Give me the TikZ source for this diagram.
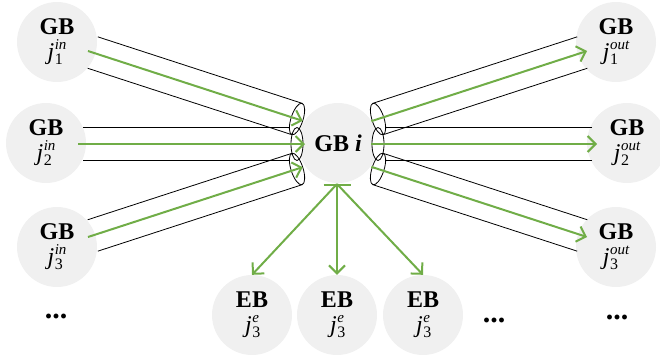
\documentclass[tikz,border=0pt]{standalone}
\usepackage{fontspec}
\setmainfont{Liberation Serif}
\usetikzlibrary{arrows.meta,calc}
\definecolor{nodegray}{HTML}{F0F0F0}
\definecolor{arrowgreen}{HTML}{70AD47}
\newcommand\jlab[2]{\textit{j}\kern0.5pt\rlap{\raisebox{10pt}{\fontsize{15}{15}\selectfont\itshape #1}}\raisebox{-5pt}{\fontsize{16}{16}\selectfont #2}\hphantom{\fontsize{15}{15}\selectfont\itshape #1}\kern-8pt}
\begin{document}
\begin{tikzpicture}[x=1pt,y=-1pt,
  bub/.style={circle,fill=nodegray,minimum size=80pt,inner sep=0pt,align=center,font=\fontsize{24}{25}\selectfont},
  >={Straight Barb[length=8pt,width=16pt]},
  garrow/.style={draw=arrowgreen,line width=2pt,->},
  tubeline/.style={draw=black,line width=0.8pt},
  dotsnode/.style={font=\fontsize{30}{30}\selectfont\bfseries,inner sep=0pt}]
\useasboundingbox (0,0) rectangle (660,360);
\clip (0,0) rectangle (660,360);

% nodes
\node[bub] (in1) at (57,42) {\textbf{GB}\\\jlab{in}{1}};
\node[bub] (in2) at (46,143) {\textbf{GB}\\\jlab{in}{2}};
\node[bub] (in3) at (57,247) {\textbf{GB}\\\jlab{in}{3}};
\node[bub] (gbi) at (338,143) {\textbf{GB \textit{i}}};
\node[bub] (out1) at (616,42) {\textbf{GB}\\\jlab{out}{1}};
\node[bub] (out2) at (627,143) {\textbf{GB}\\\jlab{out}{2}};
\node[bub] (out3) at (616,247) {\textbf{GB}\\\jlab{out}{3}};
\node[bub] (eb1) at (252,315) {\textbf{EB}\\\jlab{e}{3}};
\node[bub] (eb2) at (337,315) {\textbf{EB}\\\jlab{e}{3}};
\node[bub] (eb3) at (423,315) {\textbf{EB}\\\jlab{e}{3}};
\node[dotsnode] (dotsl) at (56,316) {...};
\node[dotsnode] (dotsm) at (494,320) {...};
\node[dotsnode] (dotsr) at (617,317) {...};

% tube coordinates
\coordinate (a1) at (88,51);  \coordinate (c1) at (297,119);
\coordinate (a2) at (78,144); \coordinate (c2) at (297,144);
\coordinate (a3) at (88,237); \coordinate (c3) at (297,169);
\coordinate (b1) at (587,51);  \coordinate (d1) at (378,119);
\coordinate (b2) at (597,144); \coordinate (d2) at (378,144);
\coordinate (b3) at (587,237); \coordinate (d3) at (378,169);

% tube walls
\foreach \a/\c in {a1/c1,a2/c2,a3/c3,b1/d1,b2/d2,b3/d3}{
  \coordinate (t) at ($(\a)!5pt!(\c)$);
  \draw[tubeline] ($(t)!16.5pt!90:(\c)$) -- ($(\c)!16.5pt!-90:(t)$);
  \draw[tubeline] ($(t)!16.5pt!-90:(\c)$) -- ($(\c)!16.5pt!90:(t)$);
}
% tube ends
\foreach \c/\ang in {c1/-18,c2/0,c3/18,d1/18,d2/0,d3/-18}{
  \fill[white,rotate around={\ang:(\c)}] (\c) ellipse (6pt and 16.5pt);
}
\foreach \c/\ang in {c1/-18,c2/0,c3/18,d1/18,d2/0,d3/-18}{
  \draw[tubeline,rotate around={\ang:(\c)}] (\c) ellipse (6pt and 16.5pt);
}

% green flows
\coordinate (e1) at ($(c1)!-6pt!(a1)$);
\coordinate (e2) at ($(c2)!-8pt!(a2)$);
\coordinate (e3) at ($(c3)!-6pt!(a3)$);
\coordinate (f1) at ($(d1)!-7pt!(b1)$);
\coordinate (f2) at ($(d2)!-7pt!(b2)$);
\coordinate (f3) at ($(d3)!-7pt!(b3)$);
\draw[garrow] (a1) -- (e1);
\draw[garrow] (a2) -- (e2);
\draw[garrow] (a3) -- (e3);
\draw[garrow] (f1) -- (b1);
\draw[garrow] (f2) -- (b2);
\draw[garrow] (f3) -- (b3);

% to EB nodes
\coordinate (gbib) at (337,184);
\draw[garrow] (gbib) -- (eb1.north);
\draw[garrow,{Bar[width=27pt]}->] (gbib) -- (eb2.north);
\draw[garrow] (gbib) -- (eb3.north);
\end{tikzpicture}
\end{document}
